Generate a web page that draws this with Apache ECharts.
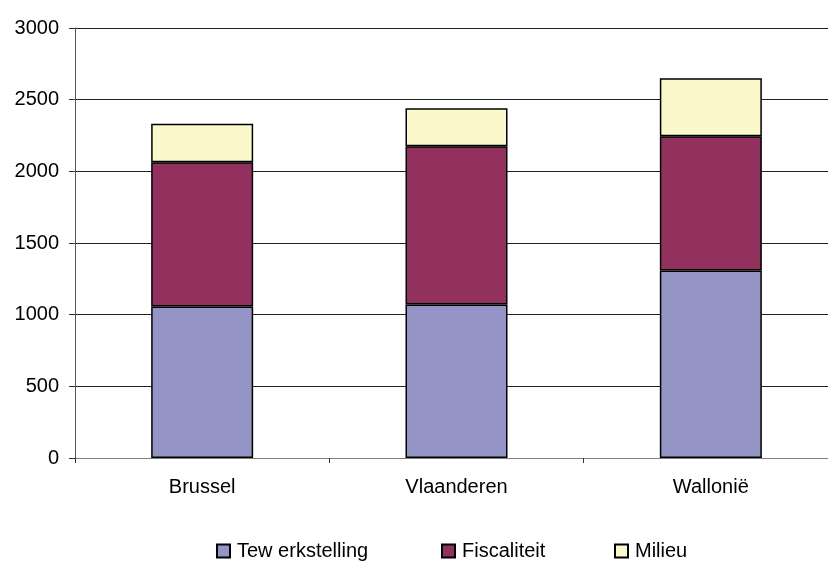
<!DOCTYPE html>
<html>
<head>
<meta charset="utf-8">
<script src="https://cdn.jsdelivr.net/npm/echarts@6/dist/echarts.min.js"></script>
<style>html,body{margin:0;padding:0;background:#fff;overflow:hidden}#c{width:828px;height:561px}</style>
</head>
<body>
<div id="c"></div>
<script>
const categories = ['Brussel', 'Vlaanderen', 'Wallonië'];
const seriesNames = ['Tew erkstelling', 'Fiscaliteit', 'Milieu'];
const tewerkstelling = [1057, 1071, 1309];
const fiscaliteit = [1006, 1104, 935];
const milieu = [269, 265, 405];
const yTicks = [0, 500, 1000, 1500, 2000, 2500, 3000];

const colors = ['#9494C6', '#92305E', '#FBF8CB'];
const font = 'Liberation Sans, Arial, sans-serif';
const values = [tewerkstelling, fiscaliteit, milieu];
const legendX = [216, 441, 614];

const chart = echarts.init(document.getElementById('c'), null, {renderer: 'canvas'});
chart.setOption({
  animation: false,
  backgroundColor: '#fff',
  grid: {left: 75, top: 28, width: 763, height: 430, containLabel: false, outerBoundsMode: 'none'},
  legend: seriesNames.map((n, i) => ({
    data: [n], left: legendX[i], top: 541, itemWidth: 13, itemHeight: 13, itemGap: 0,
    icon: 'rect', padding: 0,
    textStyle: {fontFamily: font, fontSize: 20, lineHeight: 20, color: '#000', padding: [0, 0, 0, 2]},
  })),
  xAxis: {
    type: 'category', data: categories,
    axisLine: {lineStyle: {color: '#808080', width: 1}},
    axisTick: {show: true, length: 5, lineStyle: {color: '#333'}},
    axisLabel: {fontFamily: font, fontSize: 20, color: '#000', margin: 19},
  },
  yAxis: {
    type: 'value', min: yTicks[0], max: yTicks[yTicks.length - 1], interval: 500,
    axisLine: {show: true, lineStyle: {color: '#555', width: 1}},
    axisTick: {show: true, length: 6, lineStyle: {color: '#333'}},
    axisLabel: {fontFamily: font, fontSize: 20, color: '#000', margin: 16, formatter: v => String(v)},
    splitLine: {show: true, lineStyle: {color: '#222', width: 1}},
  },
  series: seriesNames.map((n, i) => ({
    name: n, type: 'bar', stack: 'total', data: values[i], barWidth: 102,
    itemStyle: {color: colors[i], borderColor: '#000', borderWidth: 1.5},
  })),
});
</script>
</body>
</html>
